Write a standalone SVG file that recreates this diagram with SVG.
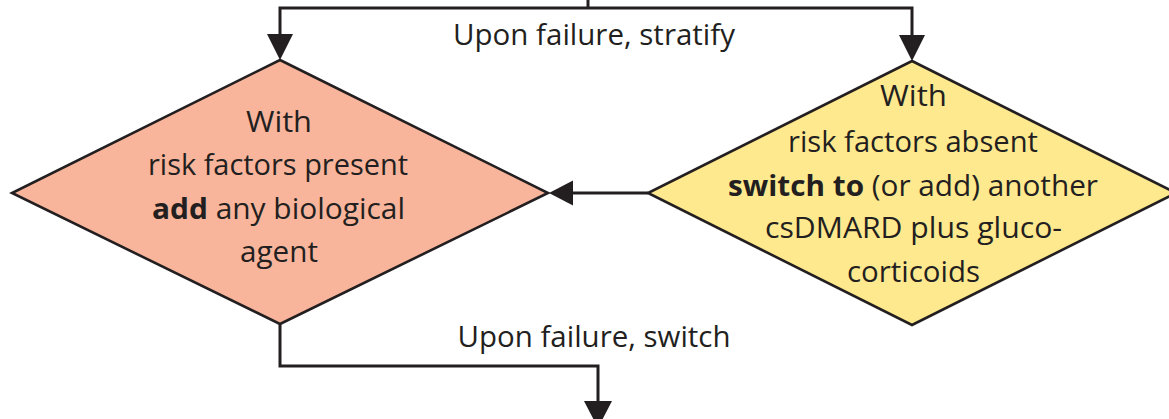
<svg xmlns="http://www.w3.org/2000/svg" width="1169" height="419" viewBox="0 0 1169 419">
<defs>
<style>
.lbl{font-family:"Open Sans","Noto Sans","Liberation Sans",sans-serif;font-size:29px;fill:#231f20;text-anchor:middle}
.b{font-weight:700}
.node{stroke:#231f20;stroke-width:2.6;stroke-linejoin:miter}
.conn{fill:none;stroke:#231f20;stroke-width:3}
.head{fill:#231f20;stroke:none}
</style>
</defs>
<rect width="1169" height="419" fill="#ffffff"/>
<g id="connectors">
<polyline class="conn" points="588,0 588,8"/>
<polyline class="conn" points="280,36 280,8 912,8 912,36"/>
<polygon class="head" points="267,34 293,34 280,60"/>
<polygon class="head" points="899,35 925,35 912,61"/>
<line class="conn" x1="648" y1="193" x2="572" y2="193"/>
<polygon class="head" points="573,180.5 573,205.5 549,193"/>
<polyline class="conn" points="280,324 280,366 598,366 598,404"/>
<polygon class="head" points="584,401 612,401 598,428"/>
<text class="lbl" x="594" y="45" textLength="282" lengthAdjust="spacingAndGlyphs">Upon failure, stratify</text>
<text class="lbl" x="594" y="347" textLength="273" lengthAdjust="spacingAndGlyphs">Upon failure, switch</text>
</g>
<g id="node-present">
<polygon class="node" fill="#f8b59b" points="280,60 548,193 280,324 12,193"/>
<text class="lbl" x="279" y="131.5" textLength="66" lengthAdjust="spacingAndGlyphs">With</text>
<text class="lbl" x="278" y="175" textLength="260" lengthAdjust="spacingAndGlyphs">risk factors present</text>
<text class="lbl" x="278.5" y="218.5" textLength="253" lengthAdjust="spacingAndGlyphs"><tspan class="b">add</tspan> any biological</text>
<text class="lbl" x="279" y="262" textLength="78" lengthAdjust="spacingAndGlyphs">agent</text>
</g>
<g id="node-absent">
<polygon class="node" fill="#fee98f" points="912,61 1176,193 912,325 648,193"/>
<text class="lbl" x="913.5" y="106" textLength="67" lengthAdjust="spacingAndGlyphs">With</text>
<text class="lbl" x="913" y="151.5" textLength="250" lengthAdjust="spacingAndGlyphs">risk factors absent</text>
<text class="lbl" x="913" y="196" textLength="370" lengthAdjust="spacingAndGlyphs"><tspan class="b">switch to</tspan> (or add) another</text>
<text class="lbl" x="913.5" y="238" textLength="297" lengthAdjust="spacingAndGlyphs">csDMARD plus gluco-</text>
<text class="lbl" x="913.5" y="282" textLength="133" lengthAdjust="spacingAndGlyphs">corticoids</text>
</g>
</svg>
